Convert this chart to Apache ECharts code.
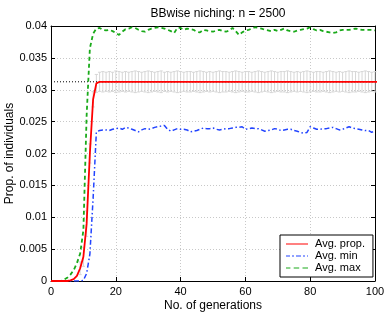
<!DOCTYPE html>
<html><head><meta charset="utf-8">
<script src="https://cdn.jsdelivr.net/npm/echarts@6/dist/echarts.min.js"></script>
<style>html,body{margin:0;padding:0;background:#fff}#c{width:388px;height:312px}</style>
</head><body><div id="c"></div>
<script>
var titleText = 'BBwise niching: n = 2500';
var xName = 'No. of generations';
var yName = 'Prop. of individuals';
var xTicks = [0, 20, 40, 60, 80, 100];
var yTicks = [0, 0.005, 0.01, 0.015, 0.02, 0.025, 0.03, 0.035, 0.04];
var refLevel = 0.03125;

var avgProp = [0,0,0,0,0,0,0.0001,0.0003,0.0008,0.002,0.0038,0.009,0.02,0.0285,0.031,
0.03125,0.03125,0.03125,0.03125,0.03125,0.03125,0.03125,0.03125,0.03125,0.03125,
0.03125,0.03125,0.03125,0.03125,0.03125,0.03125,0.03125,0.03125,0.03125,0.03125,
0.03125,0.03125,0.03125,0.03125,0.03125,0.03125,0.03125,0.03125,0.03125,0.03125,
0.03125,0.03125,0.03125,0.03125,0.03125,0.03125,0.03125,0.03125,0.03125,0.03125,
0.03125,0.03125,0.03125,0.03125,0.03125,0.03125,0.03125,0.03125,0.03125,0.03125,
0.03125,0.03125,0.03125,0.03125,0.03125,0.03125,0.03125,0.03125,0.03125,0.03125,
0.03125,0.03125,0.03125,0.03125,0.03125,0.03125,0.03125,0.03125,0.03125,0.03125,
0.03125,0.03125,0.03125,0.03125,0.03125,0.03125,0.03125,0.03125,0.03125,0.03125,
0.03125,0.03125,0.03125,0.03125,0.03125,0.03125,0.03125];

var avgMin = [0,0,0,0,0,0,0,0,0,0,0.0001,0.0012,0.0042,0.013,0.0234,
0.0236,0.0237,0.0237,0.0236,0.0238,0.0239,0.0240,0.0238,0.0241,0.0240,
0.0238,0.0236,0.0234,0.0237,0.0239,0.0238,0.0239,0.0241,0.0242,0.0243,
0.0244,0.0238,0.0235,0.0237,0.0239,0.0238,0.0238,0.0237,0.0234,0.0235,
0.0236,0.0238,0.0240,0.0239,0.0239,0.0240,0.0238,0.0237,0.0238,0.0239,
0.0239,0.0240,0.0241,0.0241,0.0242,0.0238,0.0239,0.0240,0.0239,0.0239,
0.0237,0.0235,0.0236,0.0237,0.0239,0.0238,0.0236,0.0237,0.0238,0.0238,
0.0236,0.0235,0.0233,0.0232,0.0233,0.0242,0.0240,0.0238,0.0238,0.0239,
0.0239,0.0240,0.0241,0.0239,0.0237,0.0238,0.0240,0.0242,0.0240,0.0239,
0.0238,0.0237,0.0236,0.0236,0.0233,0.0236];

var avgMax = [0,0,0,0,0.0002,0.0005,0.001,0.0017,0.0028,0.0043,0.008,0.026,0.0365,0.0388,0.0396,
0.0397,0.0394,0.0393,0.0394,0.0392,0.0389,0.0386,0.0391,0.0395,0.0396,
0.0398,0.0397,0.0394,0.0392,0.0391,0.0394,0.0396,0.0397,0.0398,0.0397,
0.0396,0.0394,0.0392,0.0389,0.0397,0.0397,0.0394,0.0396,0.0395,0.0394,
0.0391,0.0390,0.0394,0.0393,0.0392,0.0391,0.0393,0.0394,0.0392,0.0391,
0.0393,0.0397,0.0392,0.0386,0.0390,0.0393,0.0394,0.0396,0.0398,0.0397,
0.0396,0.0394,0.0393,0.0392,0.0394,0.0392,0.0394,0.0396,0.0393,0.0392,
0.0391,0.0393,0.0394,0.0395,0.0396,0.0398,0.0395,0.0393,0.0394,0.0392,
0.0391,0.0390,0.0389,0.0390,0.0393,0.0394,0.0394,0.0394,0.0395,0.0396,
0.0395,0.0394,0.0394,0.0394,0.0394,0.0393];

var propErr = [0,0,0,0,0,0,0,0,0,0.001,0.0015,0.002,0.0015,0.0012,
0.0014,0.0015,0.0016,0.0015,0.0016,0.0015,0.0017,0.0016,0.0015,0.0016,
0.0015,0.0016,0.0017,0.0016,0.0015,0.0016,0.0017,0.0016,0.0015,0.0016,
0.0017,0.0015,0.0016,0.0015,0.0016,0.0017,0.0016,0.0015,0.0016,0.0016,
0.0015,0.0016,0.0017,0.0016,0.0015,0.0016,0.0015,0.0016,0.0017,0.0016,
0.0016,0.0015,0.0016,0.0017,0.0016,0.0015,0.0016,0.0016,0.0015,0.0016,
0.0017,0.0016,0.0015,0.0016,0.0017,0.0016,0.0015,0.0016,0.0016,0.0017,
0.0016,0.0015,0.0016,0.0015,0.0016,0.0017,0.0016,0.0015,0.0016,0.0016,
0.0015,0.0016,0.0017,0.0016,0.0015,0.0016,0.0015,0.0016,0.0017,0.0016,
0.0016,0.0015,0.0016,0.0017,0.0016,0.0015,0.0016];

function pairs(arr){ return arr.map(function(v,i){ return [i, v]; }); }
var errData = [];
avgProp.forEach(function(v,i){ if (propErr[i] > 0) errData.push([i, v - propErr[i], v + propErr[i]]); });

var font = '"Liberation Sans", Arial, sans-serif';
var chart = echarts.init(document.getElementById('c'), null, {renderer:'canvas'});
var axisCommon = {
  type:'value', min:0,
  axisLine:{show:true, onZero:false, lineStyle:{color:'#000', width:1}},
  axisTick:{show:true, inside:true, length:4, lineStyle:{color:'#000'}},
  axisLabel:{color:'#000', fontSize:11, fontFamily:font},
  splitLine:{show:false}
};
var iconSolid = 'path://M0,0h22v1h-22z';
var iconDash = 'path://M0,0h4v1h-4z M7,0h5v1h-5z M15,0h5v1h-5z';
var iconDashDot = 'path://M0,0h4v1h-4z M6,0h2v1h-2z M10,0h5v1h-5z M17,0h2v1h-2z M21,0h1v1h-1z';
chart.setOption({
  animation:false,
  title:{text:titleText, left:213, top:3, textAlign:'center',
    textStyle:{fontSize:12, fontWeight:'normal', color:'#000', fontFamily:font}},
  grid:{left:51, right:13, top:26, bottom:31, containLabel:false, outerBoundsMode:'none'},
  legend:{
    data:[
      {name:'Avg. prop.', icon:iconSolid, itemStyle:{color:'#ff0000'}},
      {name:'Avg. min', icon:iconDashDot, itemStyle:{color:'#2244ff'}},
      {name:'Avg. max', icon:iconDash, itemStyle:{color:'#1aaa1a'}}
    ],
    orient:'vertical', left:280, top:235,
    itemWidth:22, itemHeight:2, itemGap:0,
    padding:[3,8,3,6],
    backgroundColor:'#fff', borderColor:'#000', borderWidth:1, borderRadius:0,
    textStyle:{fontSize:11, color:'#000', fontFamily:font, lineHeight:12, padding:[0,0,0,2]}
  },
  xAxis:[
    Object.assign({}, axisCommon, {max:100, interval:20, position:'bottom',
      name:xName, nameLocation:'middle', nameGap:18.5, nameMoveOverlap:false,
      nameTextStyle:{fontSize:12, color:'#000', fontFamily:font},
      axisLabel:{color:'#000', fontSize:11, fontFamily:font, margin:5},
      splitLine:{show:true, lineStyle:{color:'#c8c8c8', type:[1,2], width:1}}}),
    Object.assign({}, axisCommon, {max:100, interval:20, position:'top',
      axisLabel:{show:false}})
  ],
  yAxis:[
    Object.assign({}, axisCommon, {max:0.04, interval:0.005, position:'left',
      name:yName, nameLocation:'middle', nameGap:35, nameMoveOverlap:false,
      nameTextStyle:{fontSize:12, color:'#000', fontFamily:font},
      axisLabel:{color:'#000', fontSize:11, fontFamily:font, margin:4,
        formatter:function(v){ return String(+v.toFixed(3)); }},
      splitLine:{show:true, lineStyle:{color:'#c8c8c8', type:[1,2], width:1}}}),
    Object.assign({}, axisCommon, {max:0.04, interval:0.005, position:'right',
      axisLabel:{show:false}})
  ],
  series:[
    {type:'custom', name:'err', silent:true, z:1,
     renderItem:function(params, api){
       var x = api.value(0);
       var lo = api.coord([x, api.value(1)]);
       var hi = api.coord([x, api.value(2)]);
       var w = 1.6;
       var st = {stroke:'#d6d6d6', lineWidth:1};
       return {type:'group', children:[
         {type:'line', shape:{x1:lo[0], y1:lo[1], x2:hi[0], y2:hi[1]}, style:st},
         {type:'line', shape:{x1:lo[0]-w, y1:lo[1], x2:lo[0]+w, y2:lo[1]}, style:st},
         {type:'line', shape:{x1:hi[0]-w, y1:hi[1], x2:hi[0]+w, y2:hi[1]}, style:st}
       ]};
     },
     encode:{x:0, y:[1,2]},
     data:errData},
    {type:'line', name:'ref', silent:true, z:2, symbol:'none',
     data:[[0, refLevel],[100, refLevel]],
     lineStyle:{color:'#000', width:1, type:[1,2]}},
    {type:'line', name:'Avg. prop.', symbol:'none', z:5,
     data:pairs(avgProp), itemStyle:{color:'#ff0000'},
     lineStyle:{color:'#ff0000', width:1.8}},
    {type:'line', name:'Avg. min', symbol:'none', z:4,
     data:pairs(avgMin), itemStyle:{color:'#2244ff'},
     lineStyle:{color:'#2244ff', width:1.5, type:[5,2.5,1.5,2.5]}},
    {type:'line', name:'Avg. max', symbol:'none', z:3,
     data:pairs(avgMax), itemStyle:{color:'#1aaa1a'},
     lineStyle:{color:'#1aaa1a', width:1.8, type:[4,3]}}
  ]
});
</script></body></html>
